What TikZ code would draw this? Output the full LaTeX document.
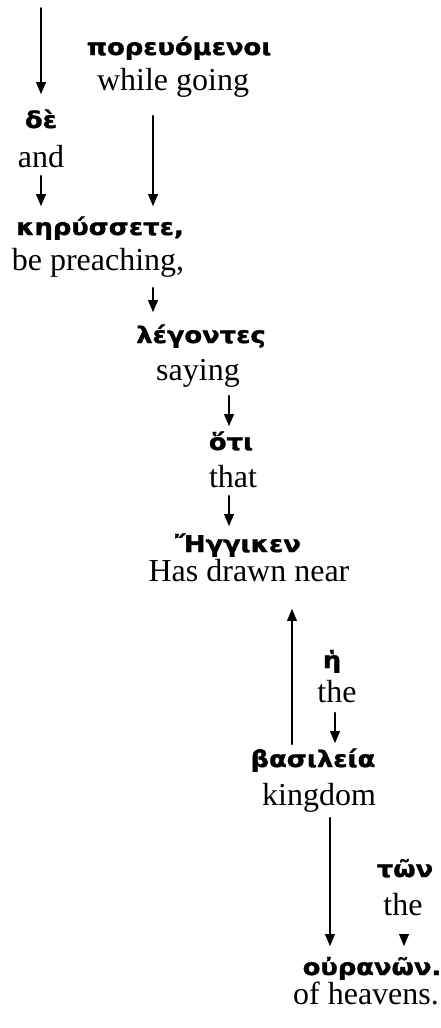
\documentclass[tikz,border=0pt]{standalone}
\usepackage{fontspec}
\setmainfont{Liberation Serif}
\newfontfamily\grk{DejaVu Sans}[FakeStretch=1.12, BoldFeatures={FakeBold=1.4}]
\usepackage{tikz}
\usetikzlibrary{arrows}

\begin{document}
\begin{tikzpicture}[line cap=round,line join=round,>=triangle 45,x=1pt,y=-1pt, line width=1.8pt,
    gr/.style={anchor=base, inner sep=0pt, text height=22pt, font=\grk\bfseries\fontsize{23}{27}\selectfont},
    en/.style={anchor=base, inner sep=0pt, text depth=0pt, font=\fontsize{32}{38}\selectfont}]
                        \useasboundingbox (0,0) rectangle (440,1028);

                        \coordinate (start) at (41,8);

                        \node[gr] (de) at (41,128) {δὲ};
                        \node[en] (and) at (41,167) {and};

                        \node[gr] (por) at (179,55) {πορευόμενοι};
                        \node[en] (going) at (173,90) {while going};

                        \node[gr] (kery) at (100,235) {κηρύσσετε,};
                        \node[en] (preach) at (98,270) {be preaching,};

                        \node[gr] (leg) at (201,343) {λέγοντες};
                        \node[en] (saying) at (198,380) {saying};

                        \node[gr] (hoti) at (231,450) {ὅτι};
                        \node[en] (that) at (233,487) {that};

                        \node[gr] (hegg) at (238,552) {Ἤγγικεν};
                        \node[en] (drawn) at (249,581) {Has drawn near};

                        \node[gr] (he) at (332,668) {ἡ};
                        \node[en] (the) at (337,702) {the};

                        \node[gr] (bas) at (313,767) {βασιλεία};
                        \node[en] (kingdom) at (319,805) {kingdom};

                        \node[gr] (ton) at (405,877) {τῶν};
                        \node[en] (thetwo) at (403,915) {the};

                        \node[gr] (our) at (372,975) {οὐρανῶν.};
                        \node[en] (heav) at (366,1004) {of heavens.};

                        \draw [->, shorten >=11pt] (start) -- (de.north);
                        \draw [->, shorten <=8pt, shorten >=6pt] (and.south) -- ([xshift=-59pt]kery.north);
                        \draw [->, shorten <=25pt, shorten >=6pt] ([xshift=-20pt]going.south) -- ([xshift=53pt]kery.north);
                        \draw [->, shorten <=17pt, shorten >=8pt] ([xshift=55pt]preach.south) -- ([xshift=-48pt]leg.north);
                        \draw [->, shorten <=15pt, shorten >=1pt] ([xshift=31pt]saying.south) -- ([xshift=-2pt]hoti.north);
                        \draw [->, shorten <=8pt, shorten >=3pt] ([xshift=-4pt]that.south) -- ([xshift=-9pt]hegg.north);

                        \draw [->, shorten >=27pt] ([xshift=-21pt]bas.north) -- ([xshift=43pt]drawn.south);
                        \draw [->, shorten <=10pt, shorten >=1pt] ([xshift=-2pt]the.south) -- ([xshift=22pt]bas.north);

                        \draw [->, shorten <=12pt, shorten >=6pt] ([xshift=11pt]kingdom.south) -- ([xshift=-42pt]our.north);
                        \draw [->, shorten <=20pt, shorten >=6pt] ([xshift=1pt]thetwo.south) -- ([xshift=32pt]our.north);
                    \end{tikzpicture}
\end{document}
